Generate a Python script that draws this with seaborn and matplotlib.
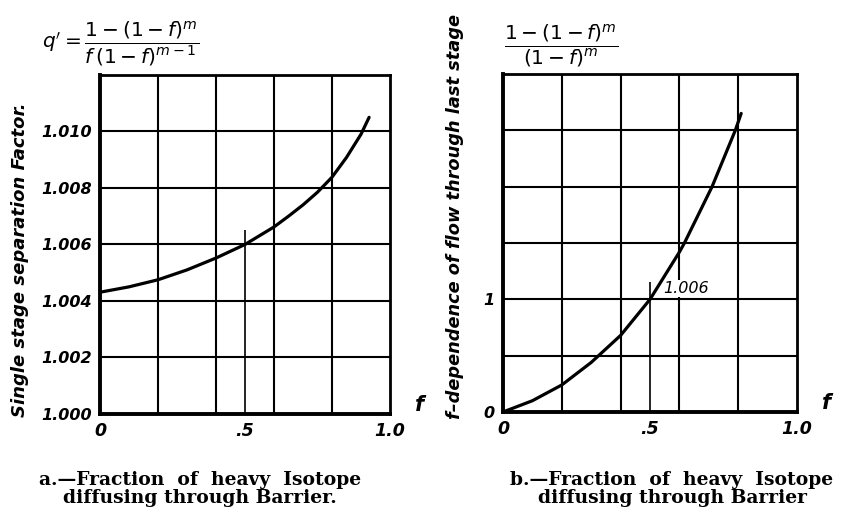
import matplotlib
matplotlib.use('Agg')
import matplotlib.pyplot as plt
import seaborn as sns
import pandas as pd

# --- data ---
# panel a: single stage separation factor q' vs f
f_a = [0.0, 0.1, 0.2, 0.3, 0.4, 0.5, 0.6, 0.65, 0.7, 0.75, 0.8, 0.85, 0.9, 0.928]
q_a = [1.00431, 1.00450, 1.00475, 1.00510, 1.00552, 1.0060, 1.00662, 1.00700,
       1.00740, 1.00785, 1.00838, 1.00908, 1.00990, 1.01050]

# panel b: f-dependence of flow through last stage
f_b = [0.0, 0.1, 0.2, 0.3, 0.4, 0.5, 0.6, 0.617, 0.711, 0.79, 0.81]
g_b = [0.0, 0.1, 0.24, 0.44, 0.68, 1.0, 1.42, 1.5, 2.0, 2.5, 2.65]

# marker at f = .5 (q' = 1.006)
mark_f = 0.5
mark_top_a = 1.0065
mark_top_b = 1.15
mark_label = '1.006'

yticks_a = [1.000, 1.002, 1.004, 1.006, 1.008, 1.010, 1.012]
ylabels_a = ['1.000', '1.002', '1.004', '1.006', '1.008', '1.010', '']
yticks_b = [0, 0.5, 1.0, 1.5, 2.0, 2.5, 3.0]
ylabels_b = ['0', '', '1', '', '', '', '']
xgrid = [0.2, 0.4, 0.6, 0.8]
xlab_pos = [0.0, 0.5, 1.0]
xlab_txt = ['0', '.5', '1.0']

cap_a = 'a.\u2014Fraction  of  heavy  Isotope\ndiffusing through Barrier.'
cap_b = 'b.\u2014Fraction  of  heavy  Isotope\ndiffusing through Barrier'

df_a = pd.DataFrame({'f': f_a, 'q': q_a})
df_b = pd.DataFrame({'f': f_b, 'g': g_b})

sns.set_theme(style='white')
plt.rcParams['font.family'] = ['DejaVu Sans']
plt.rcParams['mathtext.fontset'] = 'dejavusans'

hand = dict(fontweight='bold', fontstyle='italic', color='black')

fig = plt.figure(figsize=(8.5, 5.16), dpi=100)
ax_a = fig.add_axes([0.1176, 0.1977, 0.3412, 0.657])
ax_b = fig.add_axes([0.5918, 0.2016, 0.3459, 0.655])


def style_axes(ax, ylo, yhi, yticks, ylabels):
    ax.set_xlim(0, 1.0)
    ax.set_ylim(ylo, yhi)
    ax.set_xticks(xlab_pos)
    ax.set_xticklabels(xlab_txt, fontsize=12.5, **hand)
    ax.set_yticks(yticks)
    ax.set_yticklabels(ylabels, fontsize=11.5, **hand)
    ax.tick_params(which='both', length=0, pad=6)
    ax.grid(True, axis='y', color='black', linewidth=1.5)
    ax.grid(False, axis='x')
    for xv in xgrid:
        ax.axvline(xv, color='black', linewidth=1.5, zorder=0.6)
    for s in ax.spines.values():
        s.set_visible(True)
        s.set_color('black')
        s.set_linewidth(2.0)
    ax.spines['left'].set_linewidth(2.8)
    ax.spines['bottom'].set_linewidth(2.8)
    ax.set_xlabel('')
    ax.set_ylabel('')
    ax.text(1.085, 0.01, 'f', transform=ax.transAxes, fontsize=15, **hand)


# panel a
sns.lineplot(data=df_a, x='f', y='q', ax=ax_a, color='black', linewidth=2.3)
ax_a.vlines(mark_f, 1.000, mark_top_a, color='black', linewidth=1.2)
style_axes(ax_a, 1.000, 1.012, yticks_a, ylabels_a)

# panel b
sns.lineplot(data=df_b, x='f', y='g', ax=ax_b, color='black', linewidth=2.3)
ax_b.vlines(mark_f, 0, mark_top_b, color='black', linewidth=1.2)
ax_b.text(mark_f + 0.045, 1.03, mark_label, fontsize=11.5, fontstyle='italic',
          color='black', va='bottom', ha='left', zorder=1.5,
          bbox=dict(facecolor='white', edgecolor='none', pad=0.5))
style_axes(ax_b, 0, 3.0, yticks_b, ylabels_b)

# formulas and axis titles
fig.text(0.05, 0.915, r"$q' = \dfrac{1-(1-f)^m}{f\,(1-f)^{m-1}}$",
         fontsize=14.5, color='black', va='center', ha='left')
fig.text(0.593, 0.912, r"$\dfrac{1-(1-f)^m}{(1-f)^m}$",
         fontsize=14.5, color='black', va='center', ha='left')
fig.text(0.024, 1 - 260 / 516, 'Single stage separation Factor.',
         rotation=90, va='center', ha='center', fontsize=13, **hand)
fig.text(0.535, 1 - 216 / 516, 'f\u2013dependence of flow through last stage',
         rotation=90, va='center', ha='center', fontsize=12.8, **hand)

# captions
cap_kw = dict(family='DejaVu Serif', fontweight='bold', fontsize=13.5,
              color='black', ha='center', va='center', linespacing=0.95)
fig.text(200 / 850, 1 - 489 / 516, cap_a, **cap_kw)
fig.text(672 / 850, 1 - 489 / 516, cap_b, **cap_kw)

fig.savefig('out.png', dpi=100, facecolor='white')
